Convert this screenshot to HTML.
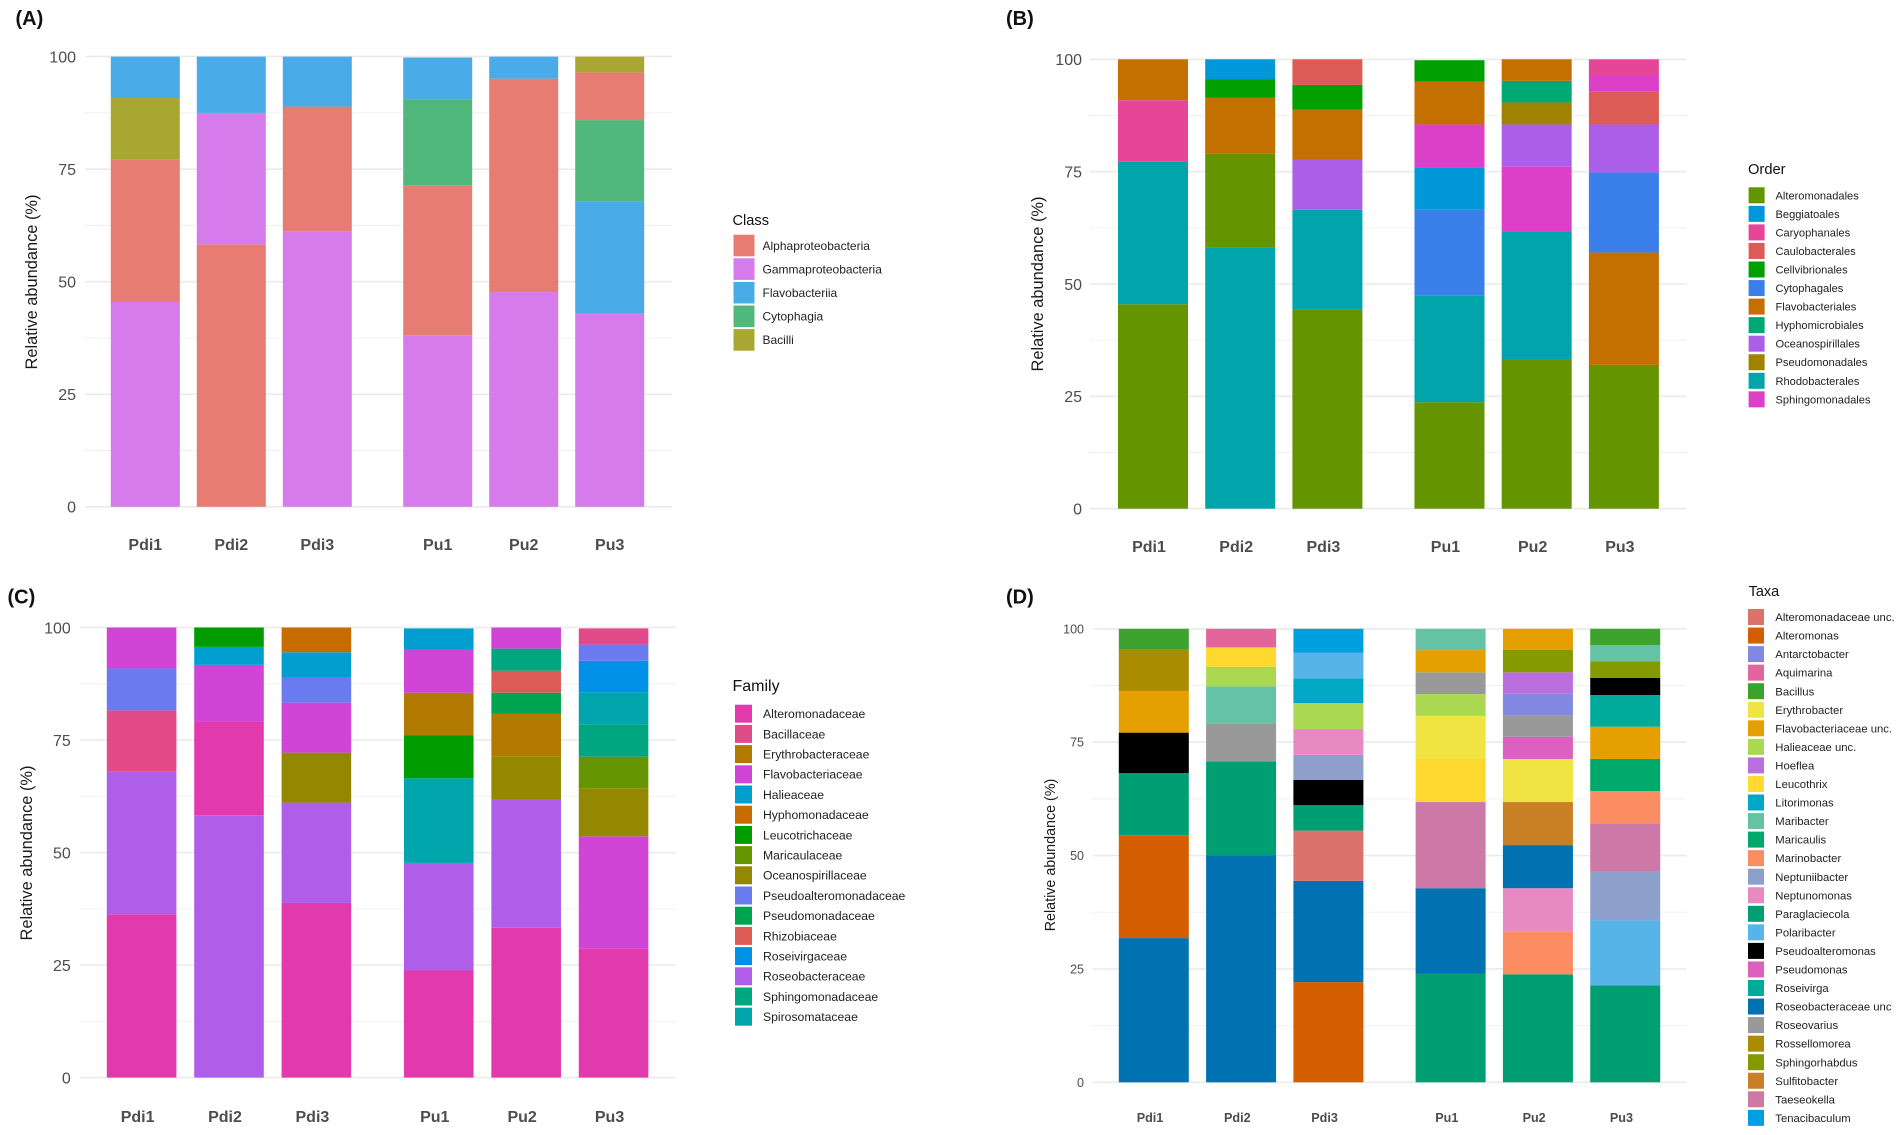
<!DOCTYPE html>
<html lang="en">
<head>
<meta charset="utf-8">
<title>Relative abundance stacked bar charts</title>
<style>
html,body{margin:0;padding:0;background:#fff;}
body{width:1902px;height:1135px;overflow:hidden;}
svg{display:block;filter:blur(0.3px);}
text{font-family:"Liberation Sans",Arial,sans-serif;}
</style>
</head>
<body>
<svg id="figure" width="1902" height="1135" viewBox="0 0 1902 1135" xmlns="http://www.w3.org/2000/svg"></svg>
<script>
const sampleLabels = ['Pdi1','Pdi2','Pdi3','Pu1','Pu2','Pu3'];
const yTicks = [0,25,50,75,100];
const yMinorTicks = [12.5,37.5,62.5,87.5];

const classNames = ['Alphaproteobacteria','Gammaproteobacteria','Flavobacteriia','Cytophagia','Bacilli'];
const classColors = ['#e77c72','#d57bec','#49abe8','#51b87c','#a8a732'];
const classOrder = [[1,0,4,2],[0,1,2],[1,0,2],[1,0,3,2],[1,0,2],[1,2,3,0,4]];
const classValues = [
  [45.5,31.7,13.6,9.2],
  [58.3,29.2,12.5],
  [61.1,27.8,11.1],
  [38.1,33.3,19.1,9.3],
  [47.7,47.4,4.9],
  [42.9,25.0,18.0,10.6,3.5]
];

const orderNames = ['Alteromonadales','Beggiatoales','Caryophanales','Caulobacterales','Cellvibrionales','Cytophagales','Flavobacteriales','Hyphomicrobiales','Oceanospirillales','Pseudomonadales','Rhodobacterales','Sphingomonadales'];
const orderColors = ['#649500','#0098d8','#e54698','#dc5c55','#00a000','#3b80ea','#c47000','#00a874','#ad5ee8','#9e8200','#00a5ab','#dd40c8'];
const orderOrder = [[0,10,2,6],[10,0,6,4,1],[0,10,8,6,4,3],[0,10,5,1,11,6,4],[0,10,11,8,9,7,6],[0,6,5,8,3,11,2]];
const orderValues = [
  [45.5,31.7,13.7,9.1],
  [58.2,20.8,12.5,4.1,4.4],
  [44.3,22.2,11.2,11.1,5.5,5.7],
  [23.7,23.8,19.0,9.5,9.5,9.5,4.8],
  [33.3,28.4,14.4,9.4,4.9,4.8,4.8],
  [32.0,25.0,17.8,10.7,7.3,3.6,3.6]
];

const familyNames = ['Alteromonadaceae','Bacillaceae','Erythrobacteraceae','Flavobacteriaceae','Halieaceae','Hyphomonadaceae','Leucotrichaceae','Maricaulaceae','Oceanospirillaceae','Pseudoalteromonadaceae','Pseudomonadaceae','Rhizobiaceae','Roseivirgaceae','Roseobacteraceae','Sphingomonadaceae','Spirosomataceae'];
const familyColors = ['#e23aad','#e24a8a','#b27a00','#d045d6','#009fd0','#c96c00','#009c00','#659500','#938800','#6a7bef','#00a450','#dc5c55','#0090e5','#ae5ee8','#00a680','#00a6ab'];
const familyOrder = [[0,13,1,9,3],[13,0,3,4,6],[0,13,8,3,9,4,5],[0,13,15,6,2,3,4],[0,13,8,2,10,11,14,3],[0,3,8,7,14,15,12,9,1]];
const familyValues = [
  [36.3,31.8,13.5,9.3,9.1],
  [58.3,20.8,12.6,4.0,4.3],
  [38.8,22.3,11.1,11.1,5.6,5.6,5.5],
  [23.8,23.9,18.8,9.5,9.5,9.6,4.7],
  [33.3,28.6,9.4,9.5,4.7,4.9,4.9,4.7],
  [28.6,25.0,10.7,7.0,7.2,7.1,7.0,3.6,3.6]
];

const taxaNames = ['Alteromonadaceae unc.','Alteromonas','Antarctobacter','Aquimarina','Bacillus','Erythrobacter','Flavobacteriaceae unc.','Halieaceae unc.','Hoeflea','Leucothrix','Litorimonas','Maribacter','Maricaulis','Marinobacter','Neptuniibacter','Neptunomonas','Paraglaciecola','Polaribacter','Pseudoalteromonas','Pseudomonas','Roseivirga','Roseobacteraceae unc','Roseovarius','Rossellomorea','Sphingorhabdus','Sulfitobacter','Taeseokella','Tenacibaculum'];
const taxaColors = ['#dc726c','#d55e00','#8388e2','#e3659c','#3da32e','#f0e442','#e69f00','#aad852','#bb6fdf','#ffd92f','#00a8c6','#66c2a5','#00a86b','#fc8d62','#8da0cb','#e78ac3','#009e73','#56b4e9','#000000','#dc60c0','#00ab9c','#0072b2','#999999','#ab8c00','#859900','#c87f26','#cc79a7','#009fe0'];
const taxaOrder = [[21,1,16,18,6,23,4],[21,16,22,11,7,9,3],[1,21,0,16,18,14,15,7,10,17,27],[16,21,26,9,5,7,22,6,11],[16,13,15,21,25,5,19,22,2,8,24,6],[16,17,14,26,13,12,6,20,18,24,11,4]];
const taxaValues = [
  [31.8,22.7,13.7,8.9,9.2,9.1,4.6],
  [50.0,20.8,8.3,8.2,4.3,4.3,4.1],
  [22.1,22.3,11.1,5.6,5.6,5.5,5.7,5.7,5.5,5.6,5.3],
  [23.9,18.9,19.0,9.5,9.5,4.8,4.8,4.9,4.7],
  [23.8,9.5,9.5,9.5,9.5,9.5,4.9,4.7,4.8,4.7,5.0,4.6],
  [21.4,14.3,10.7,10.7,7.1,7.1,7.1,7.0,3.8,3.6,3.6,3.6]
];

const SVG_NS = 'http://www.w3.org/2000/svg';
const root = document.getElementById('figure');

function make(parent, tag, attrs, content) {
  const el = document.createElementNS(SVG_NS, tag);
  for (const key in attrs) el.setAttribute(key, attrs[key]);
  if (content !== undefined) el.textContent = content;
  parent.appendChild(el);
  return el;
}

function drawPanel(p, names, colors, order, values) {
  const panel = make(root, 'g', {});
  
  

  const yScale = v => p.y0 + (p.y100 - p.y0) * v / 100;
  const xScale = i => p.x0 + p.step * (i + (i >= 3 ? 0.4 : 0));

  const tag = make(panel, 'text', {x: p.tagX, y: p.tagY, 'font-size': 20, 'font-weight': 'bold', fill: '#111'}, '(' + p.key.toUpperCase() + ')');
  
  

  yMinorTicks.forEach(t => {
    const line = make(panel, 'line', {x1: p.gridL, x2: p.gridR, y1: yScale(t), y2: yScale(t), stroke: '#f0f0f0', 'stroke-width': 1});
    
    
  });
  yTicks.forEach(t => {
    const line = make(panel, 'line', {x1: p.gridL, x2: p.gridR, y1: yScale(t), y2: yScale(t), stroke: '#ebebeb', 'stroke-width': 1.6});
    
    
    const label = make(panel, 'text', {x: p.tickR, y: yScale(t) + p.tickFont * 0.36, 'text-anchor': 'end', 'font-size': p.tickFont, fill: '#4d4d4d'}, t);
    
    
  });

  const yTitle = make(panel, 'text', {transform: 'translate(' + p.titleX + ',' + p.titleY + ') rotate(-90)', 'text-anchor': 'middle', 'font-size': p.titleFont, fill: '#1a1a1a'}, 'Relative abundance (%)');
  
  

  sampleLabels.forEach((sample, i) => {
    let cum = 0;
    order[i].forEach((seriesIndex, k) => {
      const v = values[i][k];
      const rect = make(panel, 'rect', {
        x: xScale(i),
        y: yScale(cum + v),
        width: p.barW,
        height: yScale(cum) - yScale(cum + v),
        fill: colors[seriesIndex]
      });
      
      
      cum += v;
    });
    const label = make(panel, 'text', {x: xScale(i) + p.barW / 2 + p.labelDx, y: p.labelY, 'text-anchor': 'middle', 'font-size': p.labelFont, 'font-weight': p.labelWeight, fill: '#4d4d4d'}, sample);
    
    
  });

  const legend = make(panel, 'g', {});
  
  
  const legendTitle = make(legend, 'text', {x: p.legX, y: p.legTitleY, 'font-size': p.legTitleFont, fill: '#111'}, p.legend);
  
  
  names.forEach((name, i) => {
    const cy = p.legY + p.legStep * i;
    const swatch = make(legend, 'rect', {x: p.swX, y: cy - p.swH / 2, width: p.swW, height: p.swH, fill: colors[i]});
    
    
    const text = make(legend, 'text', {x: p.legTextX, y: cy + p.legFont * 0.36, 'font-size': p.legFont, fill: '#222'}, name);
    
    
  });
}

drawPanel({
  key:'a', legend:'Class', y0:506.8, y100:56.6, x0:110.8, step:86, barW:69, gridL:85, gridR:672,
  tagX:15.5, tagY:25, tickR:76, tickFont:16, titleX:37, titleY:282, titleFont:16.4,
  labelDx:0, labelY:550, labelFont:16, labelWeight:'bold',
  legX:732.5, legTitleY:225, legTitleFont:14.6, swX:733.5, swW:21, swH:21.6, legY:245.5, legStep:23.6, legTextX:762.5, legFont:12
}, classNames, classColors, classOrder, classValues);

drawPanel({
  key:'b', legend:'Order', y0:508.7, y100:59.3, x0:1118, step:87.2, barW:70, gridL:1089.6, gridR:1686.6,
  tagX:1006, tagY:25, tickR:1082, tickFont:16, titleX:1043, titleY:284, titleFont:16.4,
  labelDx:-4, labelY:552, labelFont:16, labelWeight:'bold',
  legX:1748, legTitleY:174, legTitleFont:14.7, swX:1748.6, swW:16, swH:16, legY:195.3, legStep:18.55, legTextX:1775.5, legFont:11.1
}, orderNames, orderColors, orderOrder, orderValues);

drawPanel({
  key:'c', legend:'Family', y0:1077.6, y100:627.5, x0:106.8, step:87.4, barW:69.6, gridL:80, gridR:676,
  tagX:7.5, tagY:603.3, tickR:70.8, tickFont:16, titleX:32, titleY:853, titleFont:16.4,
  labelDx:-4, labelY:1122, labelFont:16, labelWeight:'bold',
  legX:732.5, legTitleY:691, legTitleFont:16, swX:735, swW:17, swH:18, legY:713.7, legStep:20.2, legTextX:763, legFont:12.2
}, familyNames, familyColors, familyOrder, familyValues);

drawPanel({
  key:'d', legend:'Taxa', y0:1082.3, y100:628.8, x0:1118.8, step:87.3, barW:70, gridL:1092.6, gridR:1686.6,
  tagX:1006, tagY:603.3, tickR:1084, tickFont:12.5, titleX:1055, titleY:855, titleFont:14.3,
  labelDx:-3.8, labelY:1122, labelFont:12.6, labelWeight:'bold',
  legX:1748.6, legTitleY:596, legTitleFont:14.5, swX:1748, swW:16, swH:16, legY:617, legStep:18.55, legTextX:1775.3, legFont:11.3
}, taxaNames, taxaColors, taxaOrder, taxaValues);
</script>
</body>
</html>
